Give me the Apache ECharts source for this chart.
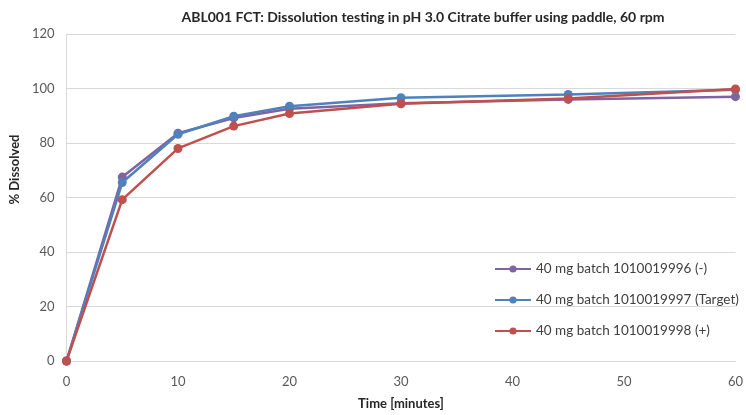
<!DOCTYPE html>
<html>
<head>
<meta charset="utf-8">
<script src="https://cdn.jsdelivr.net/npm/echarts@6/dist/echarts.min.js"></script>
<style>
  html, body { margin: 0; padding: 0; background: #fff; }
  #main { width: 746px; height: 415px; }
</style>
</head>
<body>
<div id="main"></div>
<script>
// time points in minutes
var times = [0, 5, 10, 15, 20, 30, 45, 60];
var batchNames = ['40 mg batch 1010019996 (-)', '40 mg batch 1010019997 (Target)', '40 mg batch 1010019998 (+)'];
// % dissolved per batch
var batchMinus = [0, 67.5, 83.6, 89.2, 92.6, 94.6, 96.0, 97.0];
var batchTarget = [0, 65.5, 83.2, 89.8, 93.5, 96.6, 97.8, 99.5];
var batchPlus = [0, 59.2, 78.0, 86.2, 90.8, 94.4, 96.3, 99.8];
var colors = ['#8064A2', '#4F81BD', '#C0504D'];

function pairs(vals) {
    return times.map(function (t, i) { return [t, vals[i]]; });
}

function lineSeries(name, vals, color) {
    return {
        name: name,
        type: 'line',
        data: pairs(vals),
        symbol: 'circle',
        symbolSize: 9,
        lineStyle: { width: 2.5, color: color },
        itemStyle: { color: color },
        emphasis: { disabled: true }
    };
}

var myChart = echarts.init(document.getElementById('main'));
var fontName = 'Lato';

myChart.setOption({
    animation: false,
    textStyle: { fontFamily: fontName },
    title: {
        text: 'ABL001 FCT: Dissolution testing in pH 3.0 Citrate buffer using paddle, 60 rpm',
        left: 418,
        top: 5,
        textAlign: 'center',
        textStyle: { fontFamily: fontName, fontSize: 14, fontWeight: 'bold', color: '#262626' }
    },
    grid: { left: 64, right: 7, top: 34, bottom: 52, containLabel: false },
    legend: {
        data: batchNames,
        orient: 'vertical',
        left: 489,
        top: 257,
        itemWidth: 36,
        itemHeight: 9,
        itemGap: 17,
        textStyle: { fontFamily: fontName, fontSize: 13.5, color: '#404040' }
    },
    xAxis: {
        type: 'value',
        min: 0,
        max: 60,
        interval: 10,
        name: 'Time [minutes]',
        nameLocation: 'middle',
        nameGap: 36,
        nameTextStyle: { fontFamily: fontName, fontSize: 13, fontWeight: 'bold', color: '#262626' },
        axisLine: { show: true, lineStyle: { color: '#d9d9d9', width: 1 } },
        axisTick: { show: false },
        axisLabel: { fontSize: 13, color: '#595959', margin: 14 },
        splitLine: { show: false }
    },
    yAxis: {
        type: 'value',
        min: 0,
        max: 120,
        interval: 20,
        name: '% Dissolved',
        nameLocation: 'middle',
        nameGap: 44,
        nameTextStyle: { fontFamily: fontName, fontSize: 13, fontWeight: 'bold', color: '#262626', padding: [0, 0, 0, 56] },
        axisLine: { show: true, lineStyle: { color: '#d9d9d9', width: 1 } },
        axisTick: { show: false },
        axisLabel: { fontSize: 13, color: '#595959', margin: 12 },
        splitLine: { show: true, lineStyle: { color: '#d9d9d9', width: 1 } }
    },
    series: [
        lineSeries(batchNames[0], batchMinus, colors[0]),
        lineSeries(batchNames[1], batchTarget, colors[1]),
        lineSeries(batchNames[2], batchPlus, colors[2])
    ]
});
</script>
</body>
</html>
